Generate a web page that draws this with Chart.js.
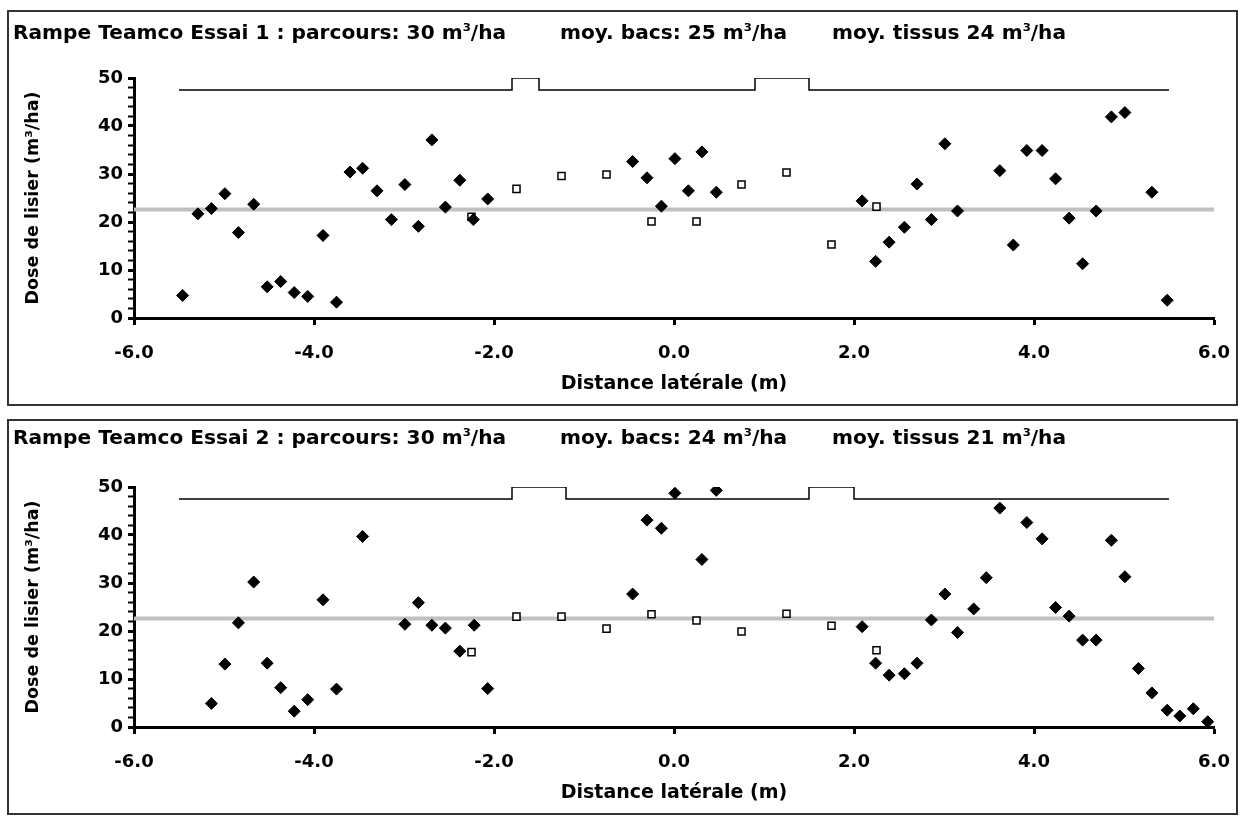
<!DOCTYPE html>
<html>
<head>
<meta charset="utf-8">
<script src="https://cdn.jsdelivr.net/npm/chart.js@4.4.1/dist/chart.umd.min.js"></script>
<style>
  body { margin: 0; background: #fff; width: 1241px; height: 818px; position: relative; overflow: hidden; }
  .frame { position: absolute; left: 7px; width: 1231px; height: 396px; border: 2px solid #333; box-sizing: border-box; }
  .frame canvas { position: absolute; left: 0; top: 0; }
  .ttl { position: absolute; font: bold 19px "DejaVu Sans", sans-serif; line-height: 19px; white-space: nowrap; color: #000;
         transform: scaleX(1.06); transform-origin: 0 0; }
  .ttl sup { font-size: 11px; vertical-align: 8px; line-height: 0; }
</style>
</head>
<body>
<div class="frame" id="f1" style="top:10px">
  <canvas id="c1"></canvas>
  <div class="ttl" style="left:4px; top:11px">Rampe Teamco Essai 1 : parcours: 30 m<sup>3</sup>/ha</div>
  <div class="ttl" style="left:551px; top:11px">moy. bacs: 25 m<sup>3</sup>/ha</div>
  <div class="ttl" style="left:823px; top:11px">moy. tissus 24 m<sup>3</sup>/ha</div>
</div>
<div class="frame" id="f2" style="top:419px">
  <canvas id="c2"></canvas>
  <div class="ttl" style="left:4px; top:7px">Rampe Teamco Essai 2 : parcours: 30 m<sup>3</sup>/ha</div>
  <div class="ttl" style="left:551px; top:7px">moy. bacs: 24 m<sup>3</sup>/ha</div>
  <div class="ttl" style="left:823px; top:7px">moy. tissus 21 m<sup>3</sup>/ha</div>
</div>
<script>
// --- data ---
// Essai 1 : tissus (diamonds)
const tissusX1 = [-5.46,-5.29,-5.14,-4.99,-4.84,-4.67,-4.52,-4.37,-4.22,-4.07,-3.90,-3.75,-3.60,-3.46,-3.30,-3.14,-2.99,-2.84,-2.69,-2.54,-2.38,-2.23,-2.07,
                  -0.46,-0.30,-0.14,0.01,0.16,0.31,0.47,
                  2.09,2.24,2.39,2.56,2.70,2.86,3.01,3.15,
                  3.62,3.77,3.92,4.09,4.24,4.39,4.54,4.69,4.86,5.01,5.31,5.48];
const tissusY1 = [4.7,21.7,22.8,25.9,17.8,23.7,6.5,7.6,5.3,4.5,17.2,3.3,30.4,31.2,26.5,20.5,27.8,19.1,37.1,23.1,28.7,20.5,24.8,
                  32.6,29.2,23.3,33.2,26.5,34.6,26.2,
                  24.4,11.8,15.8,18.9,27.9,20.5,36.3,22.3,
                  30.7,15.2,34.9,34.9,29.0,20.8,11.3,22.3,41.9,42.8,26.2,3.7];
// Essai 1 : bacs (hollow squares)
const bacsX = [-2.25,-1.75,-1.25,-0.75,-0.25,0.25,0.75,1.25,1.75,2.25];
const bacsY1 = [21.1,26.9,29.6,29.9,20.1,20.1,27.8,30.3,15.3,23.2];
// Essai 1 : rampe outline (stepped)
const rampeX1 = [-5.5,-1.8,-1.5,0.9,1.5,5.5];
const rampeY1 = [47.5,50,47.5,50,47.5,47.5];

// Essai 2
const tissusX2 = [-5.14,-4.99,-4.84,-4.67,-4.52,-4.37,-4.22,-4.07,-3.90,-3.75,-3.46,-2.99,-2.84,-2.69,-2.54,-2.38,-2.22,-2.07,
                  -0.46,-0.30,-0.14,0.01,0.31,0.47,
                  2.09,2.24,2.39,2.56,2.70,2.86,3.01,3.15,3.33,3.47,3.62,
                  3.92,4.09,4.24,4.39,4.54,4.69,4.86,5.01,5.16,5.31,5.48,5.62,5.77,5.93];
const tissusY2 = [4.9,13.1,21.7,30.2,13.3,8.2,3.3,5.7,26.5,7.9,39.7,21.4,25.9,21.2,20.6,15.8,21.2,8.0,
                  27.7,43.1,41.4,48.7,34.9,49.3,
                  20.9,13.3,10.8,11.1,13.3,22.3,27.7,19.7,24.6,31.1,45.6,
                  42.6,39.2,24.9,23.1,18.1,18.1,38.9,31.3,12.2,7.1,3.5,2.3,3.8,1.1];
const bacsY2 = [15.6,23.0,23.0,20.5,23.5,22.2,19.9,23.6,21.1,16.0];
const rampeX2 = [-5.5,-1.8,-1.2,1.5,2.0,5.5];
const rampeY2 = [47.5,50,47.5,50,47.5,47.5];

// horizontal reference (grey line)
const refX = [-6, 6];
const refY = [22.6, 22.6];

// axis ticks
const xMin = -6, xMax = 6, xStep = 2;
const yMin = 0, yMax = 50, yStep = 2, yLabelEvery = 10;

Chart.defaults.font.family = '"DejaVu Sans", sans-serif';
Chart.defaults.font.weight = 'bold';
Chart.defaults.color = '#000';

function pts(xs, ys) {
  return xs.map((x, i) => ({ x: x, y: ys[i] }));
}

function makeChart(id, tX, tY, bY, rX, rY) {
  const ctx = document.getElementById(id).getContext('2d');
  return new Chart(ctx, {
    type: 'scatter',
    data: {
      datasets: [
        { // tissus
          data: pts(tX, tY),
          pointStyle: 'rectRot',
          pointRadius: 6,
          backgroundColor: '#000',
          borderColor: '#000',
          borderWidth: 1,
          showLine: false
        },
        { // bacs
          data: pts(bacsX, bY),
          pointStyle: 'rect',
          pointRadius: 5,
          backgroundColor: '#fff',
          borderColor: '#000',
          borderWidth: 1.5,
          showLine: false
        },
        { // rampe
          data: pts(rX, rY),
          showLine: true,
          stepped: 'before',
          pointRadius: 0,
          borderColor: '#000',
          borderWidth: 1.5,
          fill: false
        },
        { // grey line
          data: pts(refX, refY),
          showLine: true,
          pointRadius: 0,
          borderColor: '#c0c0c0',
          borderWidth: 4,
          fill: false
        }
      ]
    },
    options: {
      responsive: true,
      maintainAspectRatio: false,
      animation: false,
      layout: { padding: { top: 66, right: 22, bottom: 0, left: 0 } },
      plugins: {
        legend: { display: false },
        title: { display: false },
        tooltip: { enabled: false }
      },
      scales: {
        x: {
          type: 'linear',
          min: xMin, max: xMax,
          border: { color: '#000', width: 3 },
          grid: { drawOnChartArea: false, drawTicks: true, tickLength: 7, tickColor: '#000', tickWidth: 3 },
          ticks: {
            stepSize: xStep,
            padding: 18,
            font: { size: 18, weight: 'bold' },
            callback: v => v.toFixed(1)
          },
          title: {
            display: true,
            text: 'Distance latérale (m)',
            font: { size: 19, weight: 'bold' },
            padding: { top: 2, bottom: 9 }
          },
          afterFit: s => { s.height = 86; s.paddingLeft = 0; s.paddingRight = 0; }
        },
        y: {
          min: yMin, max: yMax,
          border: { color: '#000', width: 3 },
          grid: {
            drawOnChartArea: false, drawTicks: true, tickLength: 6, tickColor: '#000',
            tickWidth: c => (c.tick && c.tick.value % yLabelEvery === 0) ? 3 : 2
          },
          ticks: {
            stepSize: yStep,
            autoSkip: false,
            padding: 5,
            font: { size: 18, weight: 'bold' },
            callback: v => (v % yLabelEvery === 0 ? v : '')
          },
          title: {
            display: true,
            text: 'Dose de lisier (m³/ha)',
            font: { size: 17.5, weight: 'bold' },
            padding: { top: 14, bottom: 0 }
          },
          afterFit: s => { s.width = 125; }
        }
      }
    }
  });
}

makeChart('c1', tissusX1, tissusY1, bacsY1, rampeX1, rampeY1);
makeChart('c2', tissusX2, tissusY2, bacsY2, rampeX2, rampeY2);
</script>
</body>
</html>
